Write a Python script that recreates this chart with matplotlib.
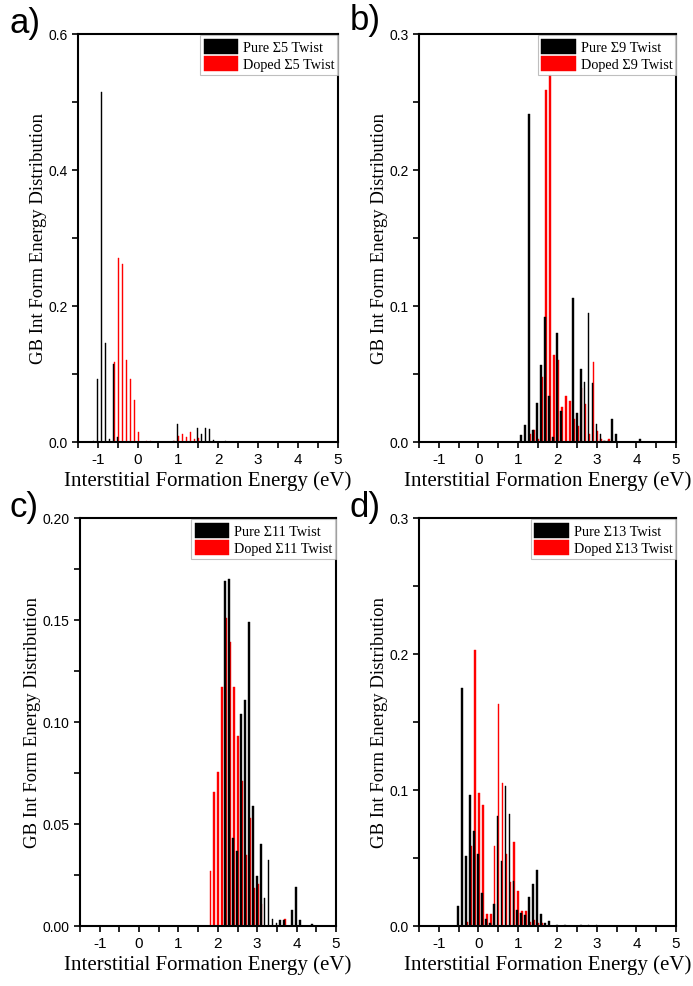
### GB interstitial formation energy distributions, pure vs doped twist boundaries

import numpy as np
import matplotlib.pyplot as plt
from matplotlib.ticker import MultipleLocator

### Data (bin centre in eV, fraction)
a_pure_x = [-1.1, -1.0, -0.9, -0.8, -0.7, -0.6, -0.5, 0.9, 1.0, 1.5, 1.6, 1.7, 1.8, 1.9, 2.2]
a_pure_y = [0.002, 0.093, 0.515, 0.145, 0.005, 0.115, 0.008, 0.001, 0.026, 0.020, 0.012, 0.021, 0.019, 0.003, 0.001]
a_dop_x = [-0.6, -0.5, -0.4, -0.3, -0.2, -0.1, 0.0, 0.2, 0.3, 0.9, 1.0, 1.1, 1.2, 1.3, 1.4, 1.5]
a_dop_y = [0.117, 0.270, 0.262, 0.121, 0.092, 0.062, 0.015, 0.002, 0.002, 0.002, 0.009, 0.011, 0.008, 0.015, 0.004, 0.006]

b_pure_x = [1.1, 1.2, 1.3, 1.4, 1.5, 1.6, 1.7, 1.8, 1.9, 2.0, 2.1, 2.4, 2.5, 2.6, 2.7, 2.8, 2.9, 3.0, 3.1, 3.2, 3.3, 3.4, 3.5, 4.1]
b_pure_y = [0.005, 0.0125, 0.241, 0.009, 0.029, 0.0565, 0.092, 0.034, 0.004, 0.080, 0.023, 0.106, 0.021, 0.054, 0.044, 0.0945, 0.0435, 0.0135, 0.006, 0.001, 0.001, 0.017, 0.0056, 0.0025]
b_dop_x = [1.3, 1.4, 1.5, 1.6, 1.7, 1.8, 1.9, 2.0, 2.1, 2.2, 2.3, 2.4, 2.5, 2.6, 2.7, 2.8, 2.9, 3.0, 3.1, 3.2, 3.3]
b_dop_y = [0.0057, 0.009, 0.002, 0.048, 0.259, 0.270, 0.064, 0.060, 0.026, 0.034, 0.030, 0.017, 0.012, 0.040, 0.028, 0.006, 0.059, 0.008, 0.002, 0.001, 0.002]

c_pure_x = [2.2, 2.3, 2.4, 2.5, 2.6, 2.7, 2.8, 2.9, 3.0, 3.1, 3.2, 3.3, 3.4, 3.5, 3.6, 3.7, 3.9, 4.0, 4.1, 4.4]
c_pure_y = [0.169, 0.170, 0.043, 0.037, 0.104, 0.111, 0.149, 0.059, 0.0245, 0.040, 0.0135, 0.0324, 0.0036, 0.0017, 0.003, 0.003, 0.008, 0.0193, 0.0027, 0.001]
c_dop_x = [1.8, 1.9, 2.0, 2.1, 2.2, 2.3, 2.4, 2.5, 2.6, 2.7, 2.8, 2.9, 3.0, 3.1, 3.7]
c_dop_y = [0.027, 0.0655, 0.0756, 0.117, 0.151, 0.139, 0.117, 0.093, 0.071, 0.035, 0.053, 0.0187, 0.0205, 0.011, 0.0036]

d_pure_x = [-0.5, -0.4, -0.3, -0.2, -0.1, 0.0, 0.1, 0.2, 0.3, 0.4, 0.5, 0.6, 0.7, 0.8, 0.9, 1.0, 1.1, 1.2, 1.3, 1.4, 1.5, 1.6, 1.7, 1.8, 2.0, 2.2, 2.6, 2.8, 3.0]
d_pure_y = [0.0144, 0.175, 0.0514, 0.096, 0.070, 0.053, 0.0245, 0.005, 0.0024, 0.016, 0.081, 0.048, 0.103, 0.082, 0.033, 0.012, 0.0098, 0.0078, 0.021, 0.031, 0.041, 0.0085, 0.0022, 0.0034, 0.001, 0.001, 0.001, 0.001, 0.001]
d_dop_x = [-0.3, -0.2, -0.1, 0.0, 0.1, 0.2, 0.3, 0.4, 0.5, 0.6, 0.7, 0.8, 0.9, 1.0, 1.1, 1.2, 1.3, 1.4, 1.5, 1.6]
d_dop_y = [0.003, 0.059, 0.203, 0.098, 0.089, 0.0086, 0.0086, 0.059, 0.163, 0.105, 0.0526, 0.032, 0.062, 0.0257, 0.011, 0.011, 0.003, 0.0044, 0.002, 0.002]

panels = [
    ('a)', 'Σ5', a_pure_x, a_pure_y, a_dop_x, a_dop_y, 0.6, 0.2, '%.1f'),
    ('b)', 'Σ9', b_pure_x, b_pure_y, b_dop_x, b_dop_y, 0.3, 0.1, '%.1f'),
    ('c)', 'Σ11', c_pure_x, c_pure_y, c_dop_x, c_dop_y, 0.2, 0.05, '%.2f'),
    ('d)', 'Σ13', d_pure_x, d_pure_y, d_dop_x, d_dop_y, 0.3, 0.1, '%.1f'),
]

### Axes boxes in figure fraction
boxes = [
    [0.1126, 0.5512, 0.3752, 0.4134],
    [0.6046, 0.5512, 0.3709, 0.4134],
    [0.1154, 0.0608, 0.3694, 0.4134],
    [0.6046, 0.0608, 0.3709, 0.4134],
]
label_pos = [(0.014, 0.993), (0.505, 0.996), (0.014, 0.503), (0.505, 0.503)]

plt.rcParams['font.family'] = 'Liberation Sans'
plt.rcParams['axes.unicode_minus'] = False
fig = plt.figure(figsize=(6.93, 9.87), dpi=100)

bw = 0.045
for (lab, sig, px, py, dx, dy, ymax, ystep, fmt), box, lp in zip(panels, boxes, label_pos):
    ax = fig.add_axes(box)
    ax.bar(np.array(dx) + 0.012, dy, width=bw, color='red', edgecolor='red', linewidth=0.3,
           label='Doped %s Twist' % sig, zorder=2)
    ax.bar(np.array(px) - 0.012, py, width=bw, color='black', edgecolor='black', linewidth=0.3,
           label='Pure %s Twist' % sig, zorder=3)

    ax.set_xlim(-1.5, 5)
    ax.set_ylim(0, ymax)
    ax.xaxis.set_major_locator(MultipleLocator(1))
    ax.xaxis.set_minor_locator(MultipleLocator(0.5))
    ax.yaxis.set_major_locator(MultipleLocator(ystep))
    ax.yaxis.set_minor_locator(MultipleLocator(ystep / 2))
    ax.yaxis.set_major_formatter(plt.FormatStrFormatter(fmt))
    ax.tick_params(which='both', direction='out', width=1.2, length=4, labelsize=10)
    ax.tick_params(axis='x', labelsize=11)
    for s in ax.spines.values():
        s.set_linewidth(1.5)

    ax.set_xlabel('Interstitial Formation Energy (eV)', family='Liberation Serif', fontsize=15,
                  labelpad=3)
    ax.set_ylabel('GB Int Form Energy Distribution', family='Liberation Serif', fontsize=13.5,
                  labelpad=1)

    h, l = ax.get_legend_handles_labels()
    leg = ax.legend(h[::-1], l[::-1], loc='upper right', bbox_to_anchor=(1.0, 0.997),
                    prop={'family': 'Liberation Serif', 'size': 10.3}, fancybox=False,
                    frameon=True, borderpad=0.25, handlelength=2.4, handleheight=1.3,
                    handletextpad=0.35, labelspacing=0.1, borderaxespad=0.0)
    leg.get_frame().set_edgecolor('#b0b0b0')
    leg.get_frame().set_linewidth(0.8)

    fig.text(lp[0], lp[1], lab, fontsize=25, va='top', ha='left')

plt.savefig('out.png', dpi=100)
